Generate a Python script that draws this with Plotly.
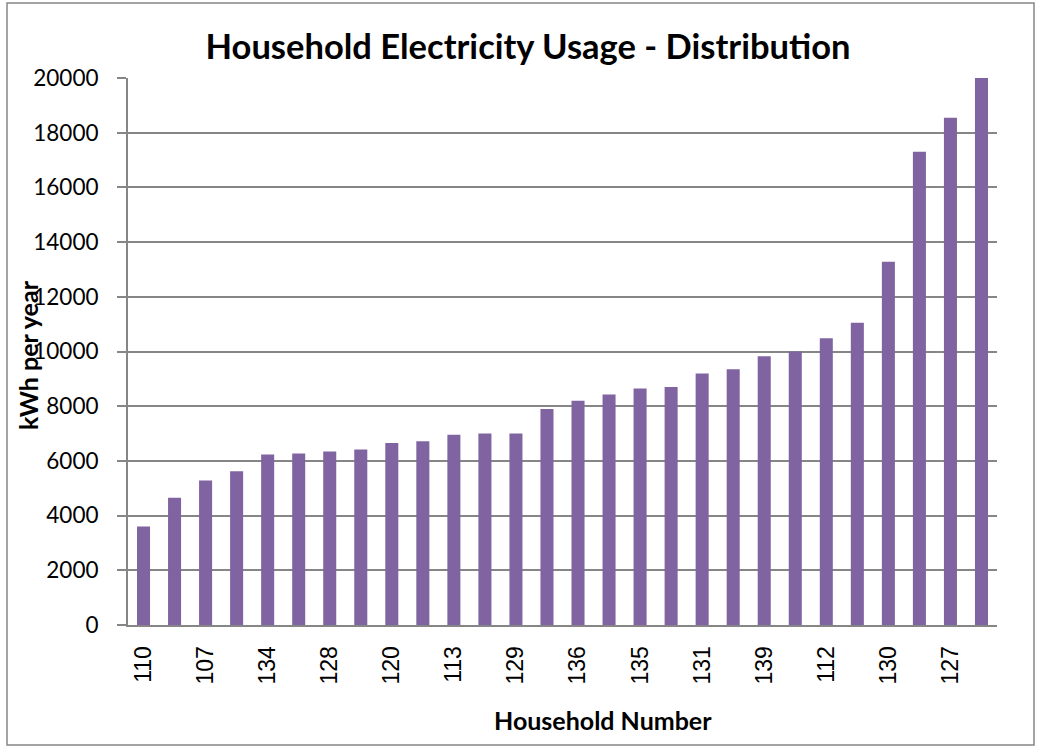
import plotly.graph_objects as go

households = ["110", "115", "107", "122", "134", "118", "128", "101", "120", "125",
              "113", "104", "129", "133", "136", "119", "135", "138", "131", "102",
              "139", "117", "112", "126", "130", "121", "127", "137"]
usage_kwh = [3600, 4650, 5280, 5620, 6230, 6270, 6340, 6420, 6650, 6720,
             6960, 7000, 7000, 7900, 8200, 8430, 8650, 8700, 9200, 9350,
             9830, 10000, 10480, 11050, 13280, 17300, 18550, 20000]
shown_labels = households[::2]
y_ticks = list(range(0, 20001, 2000))

FONT = "Lato, 'Open Sans', sans-serif"
PL, PR, PT, PB = 128, 997, 78, 625
PW, PH = PR - PL, PB - PT

fig = go.Figure()
fig.add_trace(go.Bar(
    x=households, y=usage_kwh,
    marker=dict(color="#8064A2", line=dict(width=0)),
    width=0.42,
))

fig.update_layout(
    width=1042, height=748,
    margin=dict(l=PL, r=1042 - PR, t=PT, b=748 - PB),
    paper_bgcolor="white", plot_bgcolor="white",
    showlegend=False,
    font=dict(family=FONT, color="black"),
    title=dict(text="<b>Household Electricity Usage - Distribution</b>",
               x=528/1042, xanchor="center", y=1-47/748, yanchor="middle",
               font=dict(size=34.5, family=FONT, color="black")),
    xaxis=dict(
        type="category",
        tickmode="array", tickvals=shown_labels, ticktext=shown_labels,
        tickangle=-90,
        tickfont=dict(size=23, family="'Liberation Sans', Arial, sans-serif"),
        showline=True, linecolor="#868686", linewidth=2,
        showgrid=False, ticks="", ticklabelstandoff=10,
    ),
    yaxis=dict(
        range=[0, 20000], tickvals=y_ticks, tickformat="d",
        tickfont=dict(size=22.5),
        showline=True, linecolor="#868686", linewidth=2,
        showgrid=True, gridcolor="#868686", gridwidth=1.5,
        ticks="outside", ticklen=9, tickcolor="#868686", tickwidth=1.5,
        ticklabelstandoff=14,
        zeroline=False,
    ),
    shapes=[dict(type="rect", xref="paper", yref="paper",
                 x0=(7-PL)/PW, x1=(1034-PL)/PW, y0=-(745-PB)/PH, y1=(PB-3)/PH,
                 line=dict(color="#868686", width=1.5), fillcolor="rgba(0,0,0,0)",
                 layer="below")],
    annotations=[
        dict(text="<b>kWh per year</b>", xref="paper", yref="paper",
             x=(28-PL)/PW, y=(PB-355)/PH, xanchor="center", yanchor="middle",
             textangle=-90, showarrow=False,
             font=dict(size=25, family=FONT)),
        dict(text="<b>Household Number</b>", xref="paper", yref="paper",
             x=(603-PL)/PW, y=-(720-PB)/PH, xanchor="center", yanchor="middle",
             showarrow=False,
             font=dict(size=25, family=FONT)),
    ],
)

fig.write_html("out.html", config={"displayModeBar": False},
               post_script="document.body.style.margin='0';")
